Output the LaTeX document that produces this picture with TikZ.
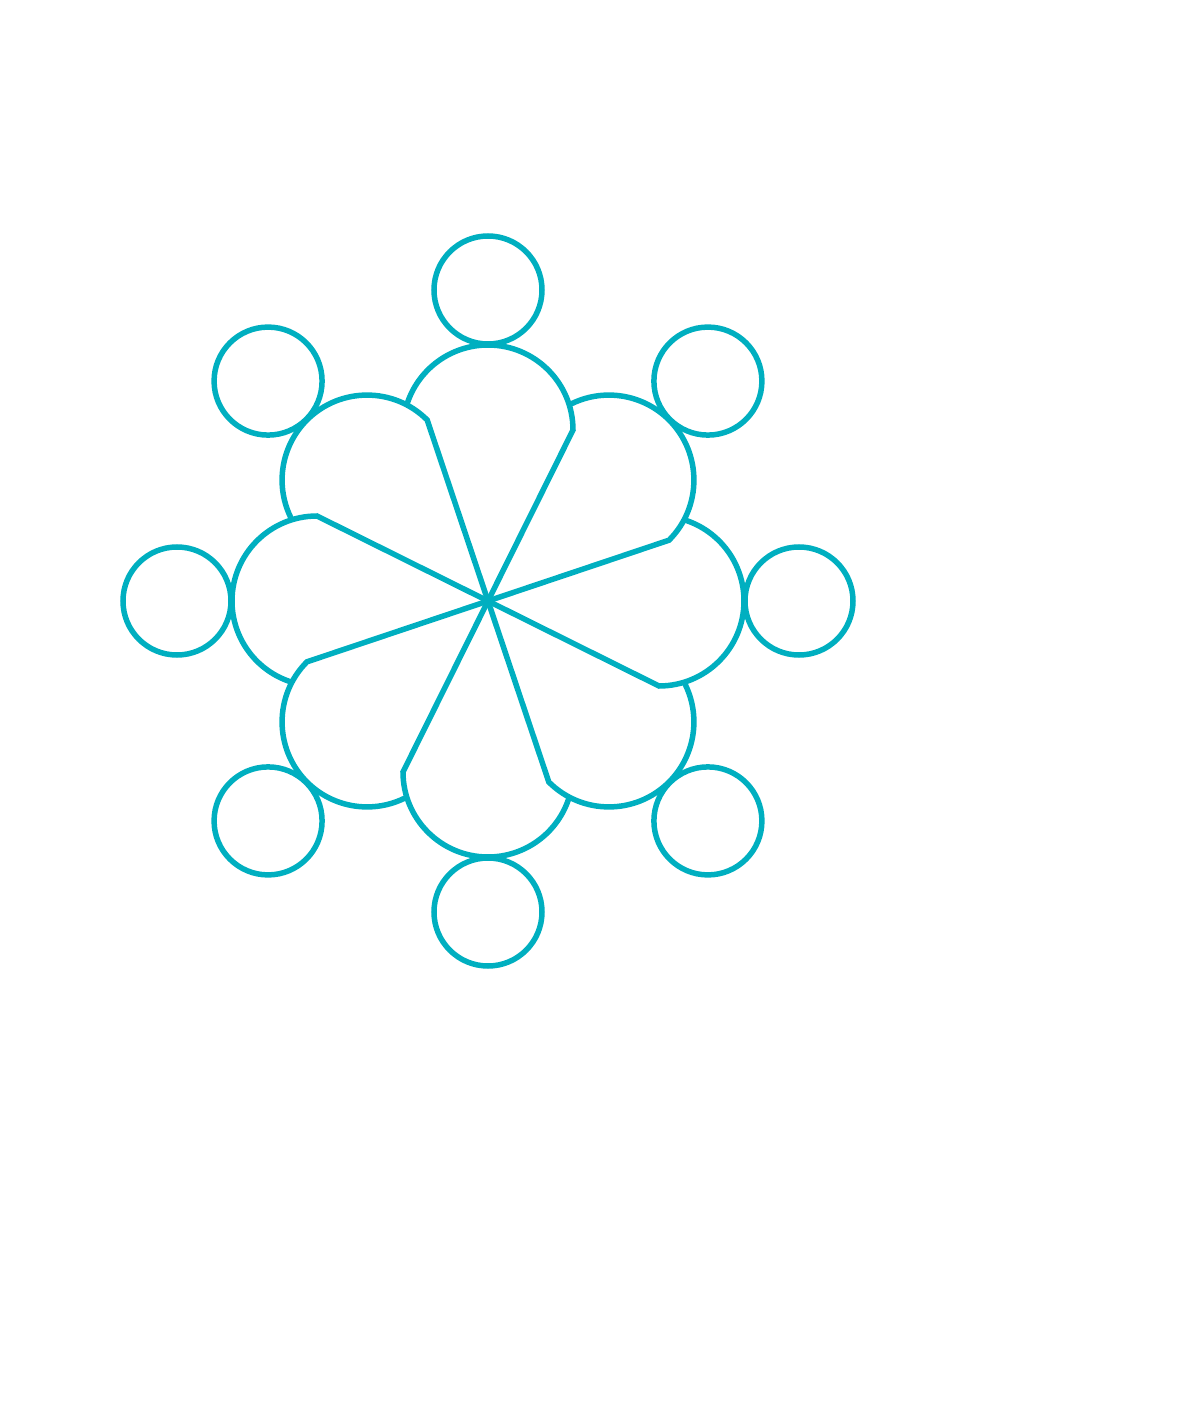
\documentclass[tikz,border=0pt]{standalone}
\definecolor{petal}{RGB}{0,175,192}
\begin{document}
\begin{tikzpicture}[x=1pt, y=1pt, line width=5.5pt]
  \useasboundingbox (-488, -810) rectangle (712, 601);
  \foreach \a in {0, 45, ..., 315} {
    \draw [petal] (0, 0) -- ([shift={(\a:171)}] \a-90:85) arc [start angle=\a-90, end angle=\a+72.84, radius=85];
    \draw [petal] (\a:311) circle [radius=54];
  }
\end{tikzpicture}
\end{document}
